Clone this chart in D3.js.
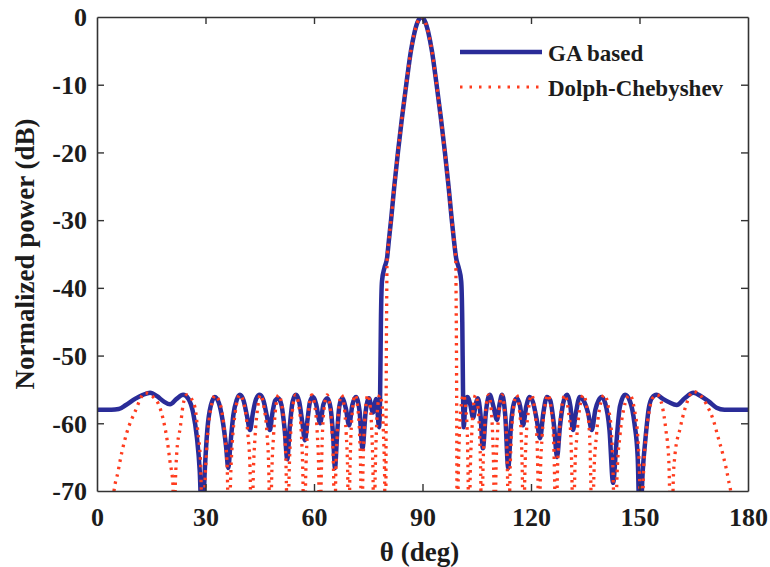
<!DOCTYPE html>
<html><head><meta charset="utf-8">
<script src="https://cdn.jsdelivr.net/npm/d3@7"></script>
<style>
body{margin:0;background:#fff}
svg{display:block}
text{font-family:"Liberation Serif","Times New Roman",serif;font-weight:bold;fill:#1c1c1c}
</style>
</head><body>
<svg id="chart" width="770" height="567"></svg>
<script>
// ---- data (theta in deg, normalized power in dB) ----
const gaTheta = [0,4,6,8,10.5,12.7,14.7,16.6,18.5,20.2,22.0,23.8,25.3,26.6,27.6,28.4,29.1,29.8,30.5,31.5,32.6,33.7,34.8,35.7,36.3,36.9,37.7,38.6,39.5,40.5,41.5,42.3,43.1,44.0,45.0,46.0,47.0,47.8,48.5,49.3,50.1,51.0,51.9,52.6,53.3,54.1,55.0,55.9,56.8,57.5,58.2,58.9,59.7,60.6,61.7,62.6,63.7,64.6,65.3,65.8,66.4,67.0,67.8,68.8,69.7,70.6,71.6,72.6,73.4,74.3,75.2,76.3,77.2,78.0,78.3,78.5,78.8,79.5,80.2,
  80.7,81.3,82.2,83.2,84.3,85.5,86.8,87.7,88.6,89.7,90.8,91.7,92.6,93.9,95.1,96.2,97.2,98.1,98.7,
  99.3,100.0,100.7,101.0,101.2,101.4,101.8,102.4,103.2,104.0,104.7,105.3,106.0,106.7,107.5,108.6,109.6,110.6,111.3,112.0,112.9,113.7,114.5,115.3,116.1,117.0,117.8,118.7,119.6,120.5,121.6,122.5,123.4,124.4,125.3,126.4,127.2,128.0,129.1,130.0,130.9,131.6,132.4,133.5,134.5,135.8,136.8,137.8,138.7,139.5,140.5,141.7,142.7,143.6,144.6,146.0,147.4,148.6,149.5,150.1,150.9,151.7,152.5,153.5,154.7,156.2,158.2,160.3,162.5,164.9,167.0,169.2,171.3,173.5,176.5,180];
const gaPower = [-58,-58,-57.9,-57.3,-56.4,-55.8,-55.5,-56,-56.8,-57.2,-56.4,-55.8,-56.4,-58.5,-62,-67,-76,-67,-61,-57.3,-56.1,-57,-59.8,-63.5,-66.6,-63,-58.8,-56.6,-55.8,-56.6,-59,-61,-58.5,-56.4,-55.8,-56.6,-59,-61,-58.5,-56.6,-56.3,-57.3,-61,-65.3,-60.5,-56.8,-55.8,-56.8,-60,-62.5,-59.5,-56.8,-56.1,-57.2,-60,-57.2,-56.3,-57.8,-62,-66.6,-61.5,-57.5,-56.3,-57.8,-60.3,-57.3,-56.1,-58.2,-63.7,-58.2,-56.3,-58.4,-56.4,-60.6,-55,-45,-39,-37,-35.6,
  -33,-30,-25,-20,-15,-10,-5,-2.5,-0.8,0,-0.8,-2.5,-5,-10,-15,-20,-25,-30,-33,
  -35.6,-37,-39,-45,-55,-60.6,-57.5,-56.1,-57.2,-59.2,-57.2,-56.3,-58.5,-63.7,-58.5,-55.8,-57.5,-59.5,-57.2,-55.8,-59,-66.6,-60,-57,-56.3,-57.5,-60.3,-57.5,-56.1,-56.8,-59.5,-62.2,-58.5,-56.1,-56.6,-60.5,-65,-60.5,-56.6,-55.8,-57.5,-61,-58.5,-56.1,-56.6,-58.5,-61,-58,-56.6,-56.1,-57,-61,-68.8,-63,-57.5,-55.8,-56.8,-60,-65,-76,-67,-62,-58,-56.2,-55.8,-56.3,-56.9,-57.3,-56.3,-55.5,-56,-56.8,-57.7,-58,-58,-58];

const dcTheta = [3.8,4.5,5.8,6.9,8.3,10.5,13.3,15.5,17.4,18.2,19.4,20.2,21.0,21.2,
  21.6,22.1,23.0,23.8,24.8,26.0,27.1,27.9,28.6,29.4,
  29.8,30.3,31.0,31.8,32.6,33.6,34.6,35.4,36.0,36.5,
  36.9,37.4,38.2,39.5,40.8,41.7,42.3,42.8,
  43.2,43.7,44.3,45.2,46.2,47.0,47.5,47.9,
  48.3,48.8,49.3,50.2,51.2,51.9,52.3,52.7,
  53.1,53.5,54.0,54.9,55.9,56.5,56.9,57.3,
  57.7,58.1,58.5,59.4,60.3,60.9,61.3,61.6,
  62.0,62.3,62.7,63.6,64.5,65.0,65.4,65.7,
  66.0,66.4,66.8,67.6,68.4,68.9,69.3,69.6,
  69.9,70.2,70.6,71.4,72.1,72.6,72.9,73.2,
  73.5,73.8,74.2,74.9,75.6,76.0,76.3,76.6,
  76.9,77.2,77.5,78.2,78.9,79.2,79.5,79.8,
  80.0,80.1,80.2,80.7,81.3,82.2,83.2,84.3,85.5,86.8,87.7,88.6,89.7,90.8,91.7,92.6,93.9,95.1,96.2,97.2,98.1,98.7,99.2,99.3,99.4,99.6,
  99.9,100.2,100.6,101.3,102.0,102.4,102.6,102.9,
  103.2,103.6,104.0,104.7,105.4,105.8,106.1,106.4,
  106.7,107.1,107.5,108.3,109.0,109.4,109.7,110.0,
  110.3,110.7,111.2,112.0,112.7,113.2,113.5,113.8,
  114.2,114.6,115.1,116.0,116.8,117.3,117.6,117.9,
  118.3,118.7,119.3,120.2,121.0,121.6,121.9,122.2,
  122.6,123.1,123.7,124.7,125.6,126.2,126.5,126.9,
  127.3,127.8,128.4,129.4,130.3,131.0,131.3,131.7,
  132.1,132.7,133.4,134.5,135.5,136.2,136.5,136.9,
  137.4,138.1,138.9,140.3,141.5,142.3,142.7,143.2,
  143.8,144.6,145.6,147.3,148.6,149.5,150.0,150.5,
  151.1,151.8,152.6,153.6,154.9,156.3,157.3,158.1,158.8,
  159.4,159.8,161.2,162.6,164.9,166.7,168.6,170.4,171.8,173.2,174.5,175.6,176.0];
const dcPower = [-80,-71,-67.2,-64.2,-61.3,-58.3,-55.5,-56.1,-57.7,-59.2,-62.5,-65.7,-69.1,-80,
  -70,-64,-60.7,-57.3,-55.8,-56.3,-57.7,-61.3,-65.5,-80,
  -70,-64,-59.5,-57,-55.9,-56.5,-58.5,-62,-66.5,-80,
  -69,-63,-58.5,-55.8,-57.5,-61.5,-66.5,-80,
  -68,-62,-58.3,-55.8,-57.7,-61.5,-67,-80,
  -68,-62,-58.3,-55.8,-57.7,-61.5,-67,-80,
  -68,-62,-58.3,-55.8,-57.7,-61.5,-67,-80,
  -68,-62,-58.3,-55.8,-57.7,-61.5,-67,-80,
  -68,-62,-58.3,-55.8,-57.7,-61.5,-67,-80,
  -68,-62,-58.3,-55.8,-57.7,-61.5,-67,-80,
  -68,-62,-58.3,-55.8,-57.7,-61.5,-67,-80,
  -68,-62,-58.3,-55.8,-57.7,-61.5,-67,-80,
  -68,-62,-58.3,-55.8,-57.7,-61.5,-67,-80,
  -50,-42,-36,-33,-30,-25,-20,-15,-10,-5,-2.5,-0.8,0,-0.8,-2.5,-5,-10,-15,-20,-25,-30,-33,-36,-42,-50,-80,
  -67.5,-61.8,-58,-55.8,-58,-61.8,-67.5,-80,
  -67.5,-61.8,-58,-55.8,-58,-61.8,-67.5,-80,
  -67.5,-61.8,-58,-55.8,-58,-61.8,-67.5,-80,
  -67.5,-61.8,-58,-55.8,-58,-61.8,-67.5,-80,
  -67.5,-61.8,-58,-55.8,-58,-61.8,-67.5,-80,
  -67.5,-61.8,-58,-55.8,-58,-61.8,-67.5,-80,
  -67.5,-61.8,-58,-55.8,-58,-61.8,-67.5,-80,
  -67.5,-61.8,-58,-55.8,-58,-61.8,-67.5,-80,
  -67.5,-61.8,-58,-55.8,-58,-61.8,-67.5,-80,
  -67.5,-61.8,-58,-55.8,-58,-61.8,-67.5,-80,
  -67.5,-61.8,-58,-55.8,-58,-61.8,-67.5,-80,
  -67.5,-61.8,-58.5,-56.3,-55.8,-57.5,-61,-65.5,-80,
  -67.5,-64.7,-60.8,-57.8,-55.3,-55.8,-57.3,-59.5,-62.2,-64.9,-68.1,-72,-80];

const xTicks = [0,30,60,90,120,150,180];
const yTicks = [0,-10,-20,-30,-40,-50,-60,-70];
const yTickLabels = ["0","-10","-20","-30","-40","-50","-60","-70"];
const seriesNames = ["GA based","Dolph-Chebyshev"];
const seriesColors = ["#2a2c98","#ff3c1e"];
const xLabel = "\u03b8 (deg)";
const yLabel = "Normalized power (dB)";

// ---- layout ----
const svg = d3.select("#chart");
const L = 97, R = 748, T = 17, B = 491;
const x = d3.scaleLinear().domain([0,180]).range([L,R]);
const y = d3.scaleLinear().domain([-70,0]).range([B,T]);

svg.append("rect").attr("width",770).attr("height",567).attr("fill","#fff");

svg.append("defs").append("clipPath").attr("id","clip")
  .append("rect").attr("x",L).attr("y",T).attr("width",R-L).attr("height",B-T);

const gaData = gaTheta.map((t,i)=>[t,gaPower[i]]);
const dcData = dcTheta.map((t,i)=>[t,dcPower[i]]);

const line = d3.line().x(d=>x(d[0])).y(d=>y(d[1])).curve(d3.curveMonotoneX);

const plot = svg.append("g").attr("clip-path","url(#clip)");
plot.append("path").datum(gaData).attr("d",line)
  .attr("fill","none").attr("stroke",seriesColors[0]).attr("stroke-width",4.5)
  .attr("stroke-linejoin","round");
plot.append("path").datum(dcData).attr("d",line)
  .attr("fill","none").attr("stroke",seriesColors[1]).attr("stroke-width",3.3)
  .attr("stroke-dasharray","2.5,5");

// ---- axes (box with inward ticks on all sides) ----
const tickLen = 7;
const axStroke = "#333";
const axB = svg.append("g").attr("transform",`translate(0,${B})`)
  .call(d3.axisBottom(x).tickValues(xTicks).tickSizeInner(-tickLen).tickSizeOuter(0).tickPadding(15).tickFormat(d=>String(d)));
const axT = svg.append("g").attr("transform",`translate(0,${T})`)
  .call(d3.axisTop(x).tickValues(xTicks).tickSizeInner(-tickLen).tickSizeOuter(0).tickFormat(""));
const axL = svg.append("g").attr("transform",`translate(${L},0)`)
  .call(d3.axisLeft(y).tickValues(yTicks).tickSizeInner(-tickLen).tickSizeOuter(0).tickPadding(10)
    .tickFormat((d,i)=>yTickLabels[i]));
const axR = svg.append("g").attr("transform",`translate(${R},0)`)
  .call(d3.axisRight(y).tickValues(yTicks).tickSizeInner(-tickLen).tickSizeOuter(0).tickFormat(""));

[axB,axT,axL,axR].forEach(g=>{
  g.select(".domain").attr("stroke",axStroke).attr("stroke-width",1.6);
  g.selectAll(".tick line").attr("stroke",axStroke).attr("stroke-width",1.4);
  g.selectAll(".tick text").attr("font-family",null).attr("font-size",null)
    .style("font-size","26px").style("fill","#1c1c1c");
});
axB.selectAll(".tick text").attr("dy","0.75em");
axL.selectAll(".tick text").attr("dy","0.34em");
// hide tick marks at the corners
[axB,axT].forEach(g=>g.selectAll(".tick line").filter(d=>d===0||d===180).remove());
[axL,axR].forEach(g=>g.selectAll(".tick line").filter(d=>d===0||d===-70).remove());

// ---- axis labels ----
svg.append("text").attr("x",(L+R)/2 - 3).attr("y",561).attr("text-anchor","middle")
  .style("font-size","27px").text(xLabel);
svg.append("text").attr("transform",`translate(34,${(T+B)/2}) rotate(-90)`)
  .attr("text-anchor","middle").style("font-size","27px").text(yLabel);

// ---- legend ----
const lg = svg.append("g");
const lgY = [52,87];
lg.append("line").attr("x1",460).attr("x2",542).attr("y1",lgY[0]).attr("y2",lgY[0])
  .attr("stroke",seriesColors[0]).attr("stroke-width",4.5);
lg.append("line").attr("x1",460).attr("x2",542).attr("y1",lgY[1]).attr("y2",lgY[1])
  .attr("stroke",seriesColors[1]).attr("stroke-width",3).attr("stroke-dasharray","2.5,7");
seriesNames.forEach((n,i)=>{
  lg.append("text").attr("x",548).attr("y",lgY[i]+9).style("font-size","23px").text(n);
});
</script>
</body></html>
